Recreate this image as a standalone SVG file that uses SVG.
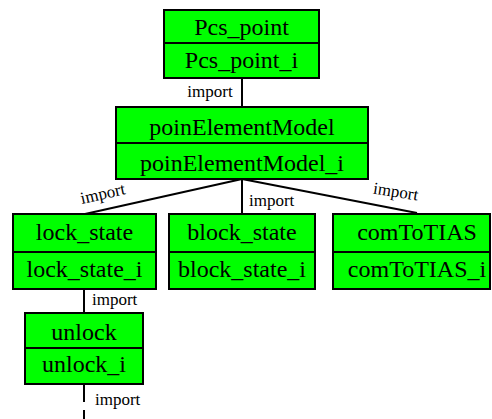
<svg xmlns="http://www.w3.org/2000/svg" width="492" height="419" viewBox="0 0 492 419">
<style>
.box{fill:#00ff00;stroke:#000;stroke-width:2}
.div{stroke:#000;stroke-width:2}
.e{stroke:#000;stroke-width:2;fill:none}
</style>
<rect width="492" height="419" fill="#fff"/>
<g id="connectors">
<line class="e" x1="242" y1="78" x2="242" y2="107"/>
<text font-family="Liberation Serif, serif" font-size="17" x="210" y="97" text-anchor="middle">import</text>
<line class="e" x1="242" y1="179" x2="85" y2="214"/>
<text font-family="Liberation Serif, serif" font-size="17" transform="translate(104,199) rotate(-12.6)" text-anchor="middle">import</text>
<line class="e" x1="242" y1="179" x2="242" y2="214"/>
<text font-family="Liberation Serif, serif" font-size="17" x="249" y="206">import</text>
<line class="e" x1="242" y1="179" x2="417" y2="213"/>
<text font-family="Liberation Serif, serif" font-size="17" transform="translate(395,197) rotate(9)" text-anchor="middle">import</text>
<line class="e" x1="84" y1="289" x2="84" y2="313"/>
<text font-family="Liberation Serif, serif" font-size="17" x="92" y="305">import</text>
<line class="e" x1="84" y1="384" x2="84" y2="419" stroke-dasharray="18 8"/>
<text font-family="Liberation Serif, serif" font-size="17" x="95" y="405">import</text>
</g>
<g id="Pcs_point">
<rect class="box" x="164" y="10" width="155" height="68"/>
<line class="div" x1="164" y1="43" x2="319" y2="43"/>
<text font-family="Liberation Serif, serif" font-size="24" text-anchor="middle" x="241.5" y="35">Pcs_point</text>
<text font-family="Liberation Serif, serif" font-size="24" text-anchor="middle" x="241.5" y="68">Pcs_point_i</text>
</g>
<g id="poinElementModel">
<rect class="box" x="116" y="107" width="252" height="72"/>
<line class="div" x1="116" y1="143" x2="368" y2="143"/>
<text font-family="Liberation Serif, serif" font-size="24" text-anchor="middle" x="242" y="135">poinElementModel</text>
<text font-family="Liberation Serif, serif" font-size="24" text-anchor="middle" x="242" y="171">poinElementModel_i</text>
</g>
<g id="lock_state">
<rect class="box" x="13" y="214" width="143" height="75"/>
<line class="div" x1="13" y1="252" x2="156" y2="252"/>
<text font-family="Liberation Serif, serif" font-size="24" text-anchor="middle" x="84.5" y="240">lock_state</text>
<text font-family="Liberation Serif, serif" font-size="24" text-anchor="middle" x="84.5" y="277">lock_state_i</text>
</g>
<g id="block_state">
<rect class="box" x="169" y="214" width="146" height="75"/>
<line class="div" x1="169" y1="252" x2="315" y2="252"/>
<text font-family="Liberation Serif, serif" font-size="24" text-anchor="middle" x="242" y="240">block_state</text>
<text font-family="Liberation Serif, serif" font-size="24" text-anchor="middle" x="242" y="277">block_state_i</text>
</g>
<g id="comToTIAS">
<rect class="box" x="333" y="214" width="157" height="75"/>
<line class="div" x1="333" y1="252" x2="490" y2="252"/>
<text font-family="Liberation Serif, serif" font-size="24" text-anchor="middle" x="417" y="240">comToTIAS</text>
<text font-family="Liberation Serif, serif" font-size="24" text-anchor="middle" x="417" y="277">comToTIAS_i</text>
</g>
<g id="unlock">
<rect class="box" x="25" y="313" width="118" height="71"/>
<line class="div" x1="25" y1="348" x2="143" y2="348"/>
<text font-family="Liberation Serif, serif" font-size="24" text-anchor="middle" x="84" y="340">unlock</text>
<text font-family="Liberation Serif, serif" font-size="24" text-anchor="middle" x="84" y="372">unlock_i</text>
</g>
</svg>
